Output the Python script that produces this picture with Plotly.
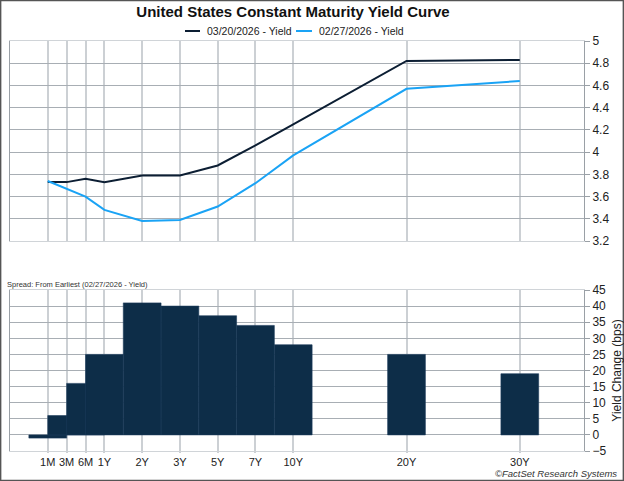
import plotly.graph_objects as go

# ---- data ----
tenors = ["1M", "3M", "6M", "1Y", "2Y", "3Y", "5Y", "7Y", "10Y", "20Y", "30Y"]
yield_0320 = [3.73, 3.73, 3.76, 3.73, 3.79, 3.79, 3.88, 4.06, 4.25, 4.82, 4.83]
yield_0227 = [3.74, 3.67, 3.60, 3.48, 3.38, 3.39, 3.51, 3.72, 3.97, 4.57, 4.64]
spread_bps = [-1, 6, 16, 25, 41, 40, 37, 34, 28, 25, 19]
series_names = ["03/20/2026 - Yield", "02/27/2026 - Yield"]

# ---- axis layout (custom maturity scale slots) ----
x_slots = [0, 1, 2, 3, 5, 7, 9, 11, 13, 19, 25]

W, H = 624, 481
FONT = "Liberation Sans, Arial, sans-serif"
DARK = "#0c1e33"
LIGHT = "#1aa3f5"
BAR = "#0d2d48"
VGRID = "#ccd0d4"
HGRID = "#a8aeb4"

def px_x(a, b):
    return [a / W, b / W]

def px_y(top, bottom):
    return [1 - bottom / H, 1 - top / H]

fig = go.Figure()
fig.add_trace(go.Scatter(x=x_slots, y=yield_0320, mode="lines", name=series_names[0],
                         line=dict(color=DARK, width=2), xaxis="x", yaxis="y", showlegend=False))
fig.add_trace(go.Scatter(x=x_slots, y=yield_0227, mode="lines", name=series_names[1],
                         line=dict(color=LIGHT, width=2), xaxis="x", yaxis="y", showlegend=False))
fig.add_trace(go.Bar(x=x_slots, y=spread_bps, width=2,
                     marker=dict(color=BAR, line=dict(color="#1b3b5b", width=0.6)),
                     showlegend=False, xaxis="x2", yaxis="y2"))

xrange = [-2, 28.4]
common_x = dict(range=xrange, tickvals=x_slots, showgrid=True, gridcolor=VGRID, gridwidth=1.5,
                zeroline=False, showline=True, linecolor="#d0d4d8", linewidth=1, mirror=True,
                domain=px_x(10, 584), automargin=False)

fig.update_layout(
    width=W, height=H,
    margin=dict(l=0, r=0, t=0, b=0, pad=0, autoexpand=False),
    paper_bgcolor="white", plot_bgcolor="white",
    font=dict(family=FONT, color="#222222", size=11),
    showlegend=False,
    barmode="overlay",
    title=dict(text="<b>United States Constant Maturity Yield Curve</b>", x=293 / W, xanchor="center",
               y=1 - 12 / H, yanchor="middle", font=dict(size=15, color="#111111", family=FONT)),
    xaxis=dict(**common_x, anchor="y", showticklabels=False, ticks=""),
    yaxis=dict(domain=px_y(41, 241), range=[3.2, 5], dtick=0.2, side="right", anchor="x",
               showgrid=True, gridcolor=HGRID, gridwidth=1, zeroline=False,
               showline=True, linecolor="#9aa0a6", linewidth=1, mirror=True,
               ticks="outside", ticklen=5, tickcolor="#9aa0a6", automargin=False,
               tickfont=dict(size=12, color="#222222")),
    xaxis2=dict(**common_x, anchor="y2", ticktext=tenors, ticks="outside", ticklen=1,
                tickcolor=VGRID, tickwidth=1.5, tickfont=dict(size=11, color="#222222")),
    yaxis2=dict(domain=px_y(290, 451), range=[-5, 45], dtick=5, side="right", anchor="x2",
                showgrid=True, gridcolor=HGRID, gridwidth=1, zeroline=False,
                showline=True, linecolor="#9aa0a6", linewidth=1, mirror=True,
                ticks="outside", ticklen=5, tickcolor="#9aa0a6", automargin=False,
                tickfont=dict(size=12, color="#222222"),
                title=dict(text="Yield Change (bps)", font=dict(size=12, color="#222222"))),
)

# legend (drawn as line samples + text)
legend_items = [(series_names[0], DARK, 185, 200), (series_names[1], LIGHT, 296, 312)]
ly = 1 - 31 / H
for name, col, a, b in legend_items:
    fig.add_shape(type="line", xref="paper", yref="paper", x0=a / W, x1=b / W, y0=ly, y1=ly,
                  line=dict(color=col, width=2))
    fig.add_annotation(text=name, xref="paper", yref="paper", x=(b + 5) / W, y=ly,
                       xanchor="left", yanchor="middle", showarrow=False,
                       font=dict(size=10.5, color="#222222"))

fig.add_annotation(text="Spread: From Earliest (02/27/2026 - Yield)", xref="paper", yref="paper",
                   x=5 / W, y=1 - 284.5 / H, xanchor="left", yanchor="middle", showarrow=False,
                   font=dict(size=7.5, color="#333333"))
fig.add_annotation(text="<i>©FactSet Research Systems</i>", xref="paper", yref="paper",
                   x=619 / W, y=1 - 473 / H, xanchor="right", yanchor="middle", showarrow=False,
                   font=dict(size=9.5, color="#333333"))

# outer frame
fig.add_shape(type="rect", xref="paper", yref="paper", x0=0.001, y0=0.001, x1=0.999, y1=0.999,
              line=dict(color="#555555", width=1.5))

fig.write_html("out.html", config={"displayModeBar": False},
               post_script="document.body.style.margin='0';document.body.style.padding='0';")
